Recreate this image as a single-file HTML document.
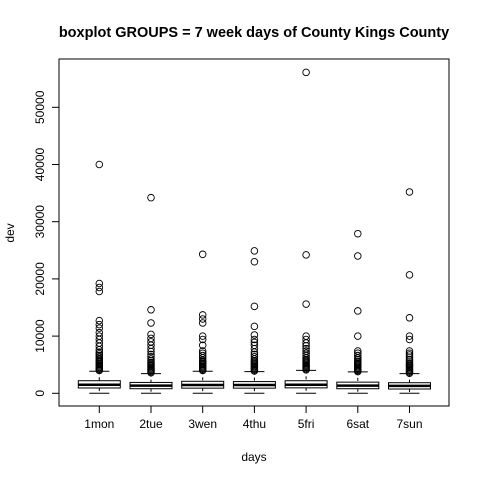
<!DOCTYPE html>
<html><head><meta charset="utf-8"><style>
body{margin:0;background:#fff;font-family:"Liberation Sans",sans-serif}
</style></head><body>
<svg id="c" width="480" height="480" xmlns="http://www.w3.org/2000/svg" font-family="Liberation Sans, sans-serif">
<text x="254" y="37" font-size="14.5" font-weight="bold" text-anchor="middle">boxplot GROUPS = 7 week days of County Kings County</text>
<text x="254" y="461" font-size="12" text-anchor="middle">days</text>
<text transform="translate(14,233) rotate(-90)" font-size="12" text-anchor="middle">dev</text>
<rect x="59" y="59" width="390" height="347" fill="none" stroke="#000"/>
<g id="g"></g>
</svg>
<script>
const categories=["1mon","2tue","3wen","4thu","5fri","6sat","7sun"];
const q1=[930,800,900,900,950,800,750];
const med=[1500,1350,1450,1450,1500,1350,1300];
const q3=[2200,1900,2100,2050,2200,1950,1850];
const whiskLo=[0,0,0,0,0,0,0];
const whiskHi=[3850,3450,3850,3800,4000,3750,3450];
const outliers=[
[4000,4200,4400,4600,4800,5000,5200,5400,5600,5800,6000,6300,6600,6900,7200,7600,8200,8800,9400,10000,10600,11400,12000,12700,17800,18500,19200,40000],
[3600,3800,4000,4200,4400,4600,4800,5000,5200,5400,5700,6000,6400,6800,7300,7800,8400,9000,9600,10300,12300,14600,34200],
[4000,4200,4400,4600,4800,5000,5200,5400,5600,5800,6200,6600,7000,7400,8400,9400,10000,12300,13000,13700,24300],
[3900,4100,4300,4500,4700,4900,5100,5300,5500,5700,6000,6400,6800,7200,7800,8400,8900,9400,10200,11700,15200,23000,24900],
[4100,4300,4500,4700,4900,5100,5300,5500,5700,5900,6200,6600,7000,7400,7800,8300,8800,9400,10000,15600,24200,56100],
[3800,4000,4200,4400,4600,4800,5000,5200,5400,5600,5900,6200,6600,7000,7400,10000,14400,24000,27900],
[3500,3700,3900,4100,4300,4500,4700,4900,5100,5300,5600,5900,6300,6700,7000,7400,9400,10000,13200,20700,35200]];
const yTicks=[0,10000,20000,30000,40000,50000];
const X0=99.3,DX=51.7,Y0=393.3,K=286/50000;
const xs=i=>X0+i*DX, ys=v=>Y0-v*K;
const g=document.getElementById('g');const NS='http://www.w3.org/2000/svg';
function el(t,a,p){const e=document.createElementNS(NS,t);for(const k in a)e.setAttribute(k,a[k]);(p||g).appendChild(e);return e;}
el('line',{x1:59,x2:59,y1:ys(0),y2:ys(50000),stroke:'#000'});
yTicks.forEach(v=>{const y=ys(v);
const l=el('line',{x1:52,x2:59,y1:y,y2:y,stroke:'#000'});


const t=el('text',{transform:`translate(44,${y}) rotate(-90)`,'font-size':12,'text-anchor':'middle'});t.textContent=v;

});
el('line',{x1:xs(0),x2:xs(6),y1:406,y2:406,stroke:'#000'});
categories.forEach((c,i)=>{const x=xs(i),w=21;
const gr=el('g',{});


el('line',{x1:x,x2:x,y1:406,y2:413,stroke:'#000'},gr);
const t=el('text',{x:x,y:428,'font-size':12,'text-anchor':'middle'},gr);t.textContent=c;
el('line',{x1:x,x2:x,y1:ys(whiskHi[i]),y2:ys(q3[i]),stroke:'#000','stroke-dasharray':'3,3'},gr);
el('line',{x1:x,x2:x,y1:ys(q1[i]),y2:ys(whiskLo[i]),stroke:'#000','stroke-dasharray':'3,3'},gr);
el('line',{x1:x-10,x2:x+10,y1:ys(whiskHi[i]),y2:ys(whiskHi[i]),stroke:'#000'},gr);
el('line',{x1:x-10,x2:x+10,y1:ys(whiskLo[i]),y2:ys(whiskLo[i]),stroke:'#000'},gr);
el('rect',{x:x-w,y:ys(q3[i]),width:2*w,height:ys(q1[i])-ys(q3[i]),fill:'#fff',stroke:'#000'},gr);
el('line',{x1:x-w,x2:x+w,y1:ys(med[i]),y2:ys(med[i]),stroke:'#000','stroke-width':2.5},gr);
outliers[i].forEach(v=>{const o=el('circle',{cx:x,cy:ys(v),r:3.3,fill:'none',stroke:'#000','stroke-width':0.9},gr);

});
});
</script>
</body></html>
